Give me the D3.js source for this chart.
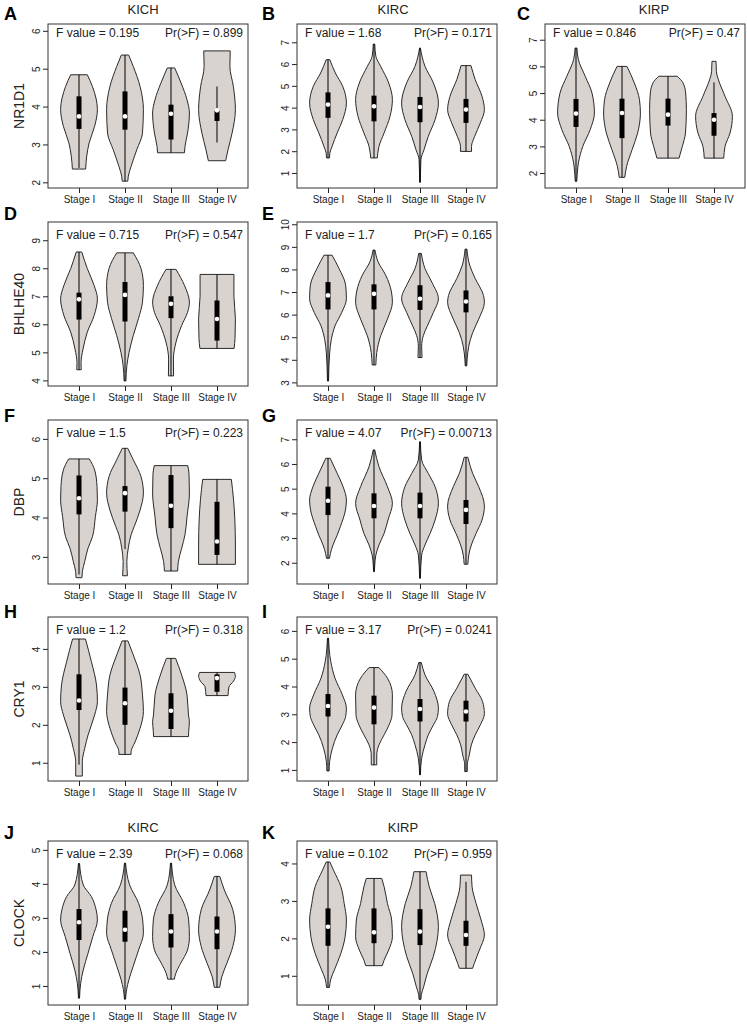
<!DOCTYPE html>
<html><head><meta charset="utf-8">
<script src="https://cdn.jsdelivr.net/npm/d3@7"></script>
<style>body{margin:0;background:#fff}</style>
</head><body>
<svg id="chart" width="747" height="1024"></svg>
<script>
// ---------------- DATA ----------------
const stages = ["Stage I", "Stage II", "Stage III", "Stage IV"];
const panelLetters = ["A","B","C","D","E","F","G","H","I","J","K"];
const genes   = ["NR1D1","NR1D1","NR1D1","BHLHE40","BHLHE40","DBP","DBP","CRY1","CRY1","CLOCK","CLOCK"];
const cancers = ["KICH","KIRC","KIRP","KICH","KIRC","KICH","KIRC","KICH","KIRC","KIRC","KIRP"];
const showCancer = [true,true,true,false,false,false,false,false,false,true,true];
const showGene   = [true,false,false,true,false,true,false,true,false,true,false];
const fValues = ["0.195","1.68","0.846","0.715","1.7","1.5","4.07","1.2","3.17","2.39","0.102"];
const pValues = ["0.899","0.171","0.47","0.547","0.165","0.223","0.00713","0.318","0.0241","0.068","0.959"];
const yLimits = [[1.85,6.18],[0.31,7.84],[1.44,7.59],[3.8,9.65],[2.84,10.1],[2.31,6.48],[1.14,7.78],[0.52,4.84],[0.6,6.5],[0.44,5.26],[0.22,4.6]];
const yTicks = [[2,3,4,5,6],[1,2,3,4,5,6,7],[2,3,4,5,6,7],[4,5,6,7,8,9],[3,4,5,6,7,8,9,10],[3,4,5,6],[2,3,4,5,6,7],[1,2,3,4],[1,2,3,4,5,6],[1,2,3,4,5],[1,2,3,4]];

// box stats per stage: [whisker low, Q1, median, Q3, whisker high]
const statsA = [[2.38,3.41,3.74,4.27,4.84],[2.03,3.39,3.74,4.40,5.36],[2.78,3.13,3.81,4.05,5.02],[3.05,3.62,3.90,3.90,4.53]];
const statsB = [[1.69,3.53,4.14,4.70,6.20],[1.69,3.37,4.06,4.55,6.92],[0.57,3.33,4.03,4.49,6.74],[1.99,3.30,3.91,4.40,5.93]];
const statsC = [[1.69,3.73,4.23,4.78,6.69],[1.84,3.31,4.25,4.79,6.00],[2.56,3.78,4.19,4.79,5.63],[2.56,3.40,4.00,4.25,5.40]];
const statsD = [[4.38,6.17,6.89,7.13,8.58],[3.98,6.10,7.05,7.51,8.55],[4.16,6.22,6.73,7.00,7.96],[5.14,5.42,6.19,6.85,7.78]];
const statsE = [[3.06,6.23,6.85,7.44,8.63],[3.77,6.23,6.92,7.34,8.86],[4.10,6.21,6.70,7.30,8.71],[3.73,6.10,6.58,7.07,8.90]];
const statsF = [[2.55,4.08,4.49,5.07,5.49],[3.20,4.15,4.62,4.80,5.76],[2.64,3.73,4.30,5.08,5.32],[2.81,3.05,3.39,4.40,4.97]];
const statsG = [[2.18,3.93,4.51,5.08,6.23],[1.64,3.80,4.30,4.81,6.57],[1.37,3.80,4.30,4.84,6.90],[1.94,3.57,4.14,4.54,6.27]];
const statsH = [[0.95,2.39,2.64,3.33,4.26],[1.22,2.00,2.57,2.98,4.21],[1.69,1.89,2.37,2.83,3.75],[2.77,2.87,3.23,3.33,3.38]];
const statsI = [[0.96,2.92,3.30,3.73,5.74],[1.18,2.64,3.24,3.67,4.68],[0.82,2.74,3.19,3.55,4.86],[0.94,2.74,3.10,3.49,4.44]];
const statsJ = [[0.64,2.35,2.87,3.26,4.60],[0.61,2.30,2.65,3.21,4.61],[1.20,2.13,2.60,3.11,4.61],[0.96,2.08,2.60,3.04,4.22]];
const statsK = [[0.69,1.80,2.31,2.80,4.04],[1.27,1.87,2.16,2.80,3.60],[0.37,1.82,2.18,2.78,3.78],[1.20,1.80,2.09,2.47,3.51]];

// violin outlines per stage: [value, relative half-width], bottom to top
const shapeA = [
  [[2.35,.36],[2.69,.42],[3.04,.55],[3.48,.85],[3.92,1],[4.53,.73],[4.84,.45]],
  [[2.03,.15],[2.16,.18],[2.42,.33],[2.86,.64],[3.30,.95],[3.92,1],[4.53,.82],[5.06,.45],[5.36,.2]],
  [[2.78,.73],[2.95,.76],[3.30,.9],[3.83,1],[4.18,.87],[4.62,.55],[5.02,.2]],
  [[2.57,.47],[2.86,.6],[3.30,.82],[3.92,1],[4.53,.89],[5.06,.7],[5.47,.72]]];
const shapeB = [
  [[1.69,.08],[1.92,.1],[2.22,.22],[2.84,.5],[3.45,.8],[4.21,1],[4.98,.8],[5.59,.4],[6.20,.1]],
  [[1.69,.18],[2.22,.27],[2.84,.55],[3.60,.87],[4.37,1],[5.13,.8],[5.90,.36],[6.36,.1],[6.92,.04]],
  [[0.57,.02],[1.61,.05],[2.07,.22],[2.68,.45],[3.45,.82],[4.21,1],[5.13,.73],[5.90,.27],[6.74,.02]],
  [[1.99,.3],[2.22,.3],[2.68,.47],[3.30,.78],[3.91,1],[4.52,.87],[5.29,.5],[5.93,.27]]];
const shapeC = [
  [[1.69,.04],[2.0,.07],[2.38,.13],[3.0,.37],[3.63,.77],[4.25,1],[5.0,.87],[5.63,.5],[6.25,.13],[6.69,.05]],
  [[1.84,.15],[2.25,.25],[2.88,.55],[3.5,.85],[4.25,1],[4.75,.95],[5.38,.67],[6.0,.27]],
  [[2.56,.6],[3.0,.78],[3.5,.95],[4.38,1],[5.0,.96],[5.4,.8],[5.63,.5]],
  [[2.56,.53],[3.0,.6],[3.5,.87],[4.13,1],[4.88,.6],[5.5,.24],[5.8,.13],[6.19,.11]]];
const shapeD = [
  [[4.38,.12],[4.64,.11],[5.12,.22],[5.72,.45],[6.31,.82],[6.91,1],[7.39,.82],[7.99,.45],[8.58,.15]],
  [[3.98,.05],[4.52,.1],[5.0,.22],[5.6,.45],[6.2,.73],[6.79,.95],[7.39,1],[7.99,.87],[8.55,.45]],
  [[4.16,.14],[4.76,.13],[5.36,.27],[5.96,.58],[6.43,.9],[6.79,1],[7.39,.73],[7.96,.27]],
  [[5.14,.93],[5.5,.98],[6.2,1],[7.0,.92],[7.78,.92]]];
const shapeE = [
  [[3.06,.03],[4.3,.09],[4.9,.18],[5.5,.38],[6.1,.75],[6.7,1],[7.3,.96],[8.04,.6],[8.63,.22]],
  [[3.77,.1],[4.32,.15],[5.06,.36],[5.8,.73],[6.55,1],[7.0,.95],[7.74,.64],[8.34,.22],[8.86,.05]],
  [[4.1,.11],[4.6,.09],[5.07,.18],[5.5,.4],[6.1,.73],[6.7,1],[7.44,.64],[8.04,.27],[8.71,.07]],
  [[3.73,.04],[4.0,.06],[4.6,.15],[5.2,.36],[5.8,.69],[6.55,1],[6.85,.95],[7.6,.5],[8.19,.2],[8.9,.05]]];
const shapeF = [
  [[2.47,.16],[2.62,.18],[2.88,.31],[3.22,.49],[3.51,.73],[4.02,.89],[4.45,1],[4.79,.98],[5.21,.85],[5.49,.56]],
  [[2.52,.13],[2.88,.1],[3.23,.18],[3.56,.33],[3.77,.5],[4.19,.82],[4.62,1],[5.04,.87],[5.47,.45],[5.76,.15]],
  [[2.64,.36],[2.88,.4],[3.22,.58],[3.56,.76],[4.02,.87],[4.62,1],[5.1,.98],[5.32,.91]],
  [[2.81,1],[3.3,1],[3.94,.97],[4.45,.9],[4.97,.78]]];
const shapeG = [
  [[2.18,.08],[2.38,.13],[2.72,.27],[3.12,.5],[3.46,.67],[4.14,.95],[4.54,1],[5.08,.82],[5.62,.5],[6.23,.12]],
  [[1.64,.02],[1.91,.04],[2.31,.1],[2.72,.27],[3.19,.55],[3.73,.76],[4.41,1],[5.08,.73],[5.89,.27],[6.57,.04]],
  [[1.37,.02],[2.31,.09],[2.72,.27],[3.19,.55],[3.73,.82],[4.41,1],[5.08,.82],[5.62,.45],[6.16,.09],[6.9,.02]],
  [[1.94,.1],[2.31,.15],[2.72,.29],[3.19,.55],[3.73,.87],[4.3,1],[5.08,.69],[5.62,.36],[6.27,.1]]];
const shapeH = [
  [[0.65,.18],[1.03,.18],[1.38,.31],[1.73,.49],[2.26,.85],[2.61,1],[3.05,.95],[3.67,.67],[4.26,.35]],
  [[1.22,.33],[1.29,.33],[1.55,.55],[1.91,.82],[2.35,1],[2.79,.95],[3.31,.82],[3.84,.45],[4.21,.16]],
  [[1.69,.95],[1.82,.96],[2.08,1],[2.26,.95],[2.79,.87],[3.31,.58],[3.75,.25]],
  [[2.77,.6],[3.0,.65],[3.15,.9],[3.28,1],[3.38,.95]]];
const shapeI = [
  [[0.96,.06],[1.3,.09],[1.78,.24],[2.26,.5],[2.62,.78],[2.92,.96],[3.22,1],[3.7,.78],[4.3,.38],[4.9,.15],[5.74,.03]],
  [[1.18,.15],[1.54,.15],[1.9,.27],[2.26,.55],[2.62,.82],[2.98,.98],[3.7,1],[4.3,.73],[4.68,.27]],
  [[0.82,.02],[1.42,.09],[1.9,.27],[2.26,.45],[2.62,.73],[2.92,.95],[3.22,1],[3.82,.76],[4.42,.27],[4.86,.07]],
  [[0.94,.07],[1.18,.07],[1.54,.18],[1.9,.29],[2.26,.5],[2.62,.78],[3.02,1],[3.46,.9],[3.94,.5],[4.44,.1]]];
const shapeJ = [
  [[0.64,.03],[1.08,.09],[1.47,.23],[1.96,.49],[2.45,.75],[2.94,1],[3.24,.93],[3.63,.67],[3.97,.23],[4.6,.03]],
  [[0.61,.03],[0.9,.09],[1.18,.21],[1.57,.44],[2.06,.74],[2.55,1],[2.94,.96],[3.43,.74],[3.97,.25],[4.61,.03]],
  [[1.2,.18],[1.37,.26],[1.67,.53],[2.06,.9],[2.45,1],[2.94,.96],[3.43,.7],[3.97,.2],[4.61,.03]],
  [[0.96,.15],[1.27,.26],[1.67,.54],[2.16,.86],[2.65,1],[3.24,.86],[3.82,.4],[4.22,.15]]];
const shapeK = [
  [[0.69,.08],[0.89,.14],[1.16,.35],[1.6,.7],[2.04,.93],[2.49,1],[2.93,.88],[3.38,.7],[3.82,.3],[4.04,.1]],
  [[1.27,.45],[1.42,.55],[1.69,.8],[2.04,1],[2.49,.96],[2.93,.73],[3.38,.55],[3.6,.42]],
  [[0.37,.05],[0.49,.07],[0.71,.2],[1.07,.4],[1.51,.72],[1.95,.93],[2.31,1],[2.93,.8],[3.38,.5],[3.78,.33]],
  [[1.2,.36],[1.33,.45],[1.69,.73],[2.09,1],[2.49,.82],[2.93,.55],[3.38,.33],[3.69,.3]]];

const allStats  = [statsA,statsB,statsC,statsD,statsE,statsF,statsG,statsH,statsI,statsJ,statsK];
const allShapes = [shapeA,shapeB,shapeC,shapeD,shapeE,shapeF,shapeG,shapeH,shapeI,shapeJ,shapeK];

// ---------------- LAYOUT ----------------
const panelCol = [0,1,2,0,1,0,1,0,1,0,1];
const panelRow = [0,0,0,1,1,2,2,3,3,4,4];
const colLeft = [48, 297, 545];
const rowTop  = [24, 222, 420, 617, 841];
const boxW = 200, boxH = 164;
const letterX = [4, 262, 517];
const letterBase = [20, 220, 422, 618, 839];
const titleX = [143, 393, 654, 0, 0, 0, 0, 0, 0, 143, 403];
const titleBase = [13.5, 0, 0, 0, 832];
const statOffset = [12.5, 16.5, 16.5, 16.5, 16.5];

const font = "'Liberation Sans', Arial, Helvetica, sans-serif";
const ink = "#222";
const violinFill = "#d9d3d0";

const svg = d3.select("#chart");
svg.append("rect").attr("width",747).attr("height",1024).attr("fill","#fff");

panelLetters.forEach((letter, i) => {
  const c = panelCol[i], r = panelRow[i];
  const L = colLeft[c], T = rowTop[r], R = L + boxW, B = T + boxH;
  const x = d3.scalePoint().domain(stages).range([L, R]).padding(0.674);
  const y = d3.scaleLinear().domain(yLimits[i]).range([B, T]);
  const hw = x.step() * 0.4;
  const g = svg.append("g").attr("font-family", font);

  // y axis
  const ay = g.append("g").attr("transform", `translate(${L},0)`)
    .call(d3.axisLeft(y).tickValues(yTicks[i]).tickSize(5).tickSizeOuter(0).tickFormat(d3.format("d")));
  ay.select(".domain").remove();
  ay.selectAll("line").attr("stroke", ink);
  ay.selectAll("text").attr("x", null).attr("dy", null)
    .attr("text-anchor", "middle").attr("font-size", 10).attr("fill", ink)
    .attr("transform", "translate(-8,0) rotate(-90)");

  // x axis
  const ax = g.append("g").attr("transform", `translate(0,${B})`)
    .call(d3.axisBottom(x).tickSize(5).tickSizeOuter(0));
  ax.select(".domain").remove();
  ax.selectAll("line").attr("stroke", ink);
  ax.selectAll("text").attr("font-size", 10).attr("fill", ink);

  // violins
  stages.forEach((s, j) => {
    const cx = x(s);
    const area = d3.area().curve(d3.curveMonotoneY)
      .y(d => y(d[0])).x0(d => cx - d[1] * hw).x1(d => cx + d[1] * hw);
    g.append("path").datum(allShapes[i][j]).attr("d", area)
      .attr("fill", violinFill).attr("stroke", "#2a2a2a").attr("stroke-width", 1);
    const st = allStats[i][j];
    g.append("line").attr("x1", cx).attr("x2", cx).attr("y1", y(st[0])).attr("y2", y(st[4]))
      .attr("stroke", "#000").attr("stroke-width", 1);
    g.append("rect").attr("x", cx - 2.5).attr("width", 5)
      .attr("y", y(st[3])).attr("height", Math.max(0.5, y(st[1]) - y(st[3]))).attr("fill", "#000");
    g.append("circle").attr("cx", cx).attr("cy", y(st[2])).attr("r", 2.3).attr("fill", "#fff");
  });

  // frame
  g.append("rect").attr("x", L).attr("y", T).attr("width", boxW).attr("height", boxH)
    .attr("fill", "none").attr("stroke", "#333").attr("stroke-width", 1);

  // stats text
  g.append("text").attr("x", L + 8).attr("y", T + statOffset[r]).attr("font-size", 12).attr("fill", ink)
    .text(`F value = ${fValues[i]}`);
  g.append("text").attr("x", R - 5).attr("y", T + statOffset[r]).attr("font-size", 12).attr("fill", ink)
    .attr("text-anchor", "end").text(`Pr(>F) = ${pValues[i]}`);

  // gene label
  if (showGene[i]) {
    g.append("text").attr("transform", `translate(${L - 24},${(T + B) / 2}) rotate(-90)`)
      .attr("text-anchor", "middle").attr("font-size", 14).attr("fill", ink).text(genes[i]);
  }
  // cancer title
  if (showCancer[i]) {
    g.append("text").attr("x", titleX[i]).attr("y", titleBase[r]).attr("text-anchor", "middle")
      .attr("font-size", 13).attr("fill", ink).text(cancers[i]);
  }
  // panel letter
  g.append("text").attr("x", letterX[c]).attr("y", letterBase[r]).attr("font-size", 18)
    .attr("font-weight", "bold").attr("fill", "#000").text(letter);
});
</script>
</body></html>
